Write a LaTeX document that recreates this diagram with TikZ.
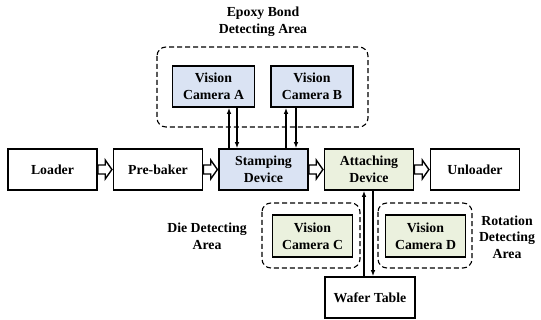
\documentclass[tikz,border=0pt]{standalone}
\usepackage{fontspec}
\setmainfont{Liberation Serif}
\usetikzlibrary{arrows.meta,calc}
\definecolor{blueF}{HTML}{DAE3F3}
\definecolor{greenF}{HTML}{EBF1DE}
\tikzset{
  box/.style={draw=black, line width=1.6pt, minimum width=89pt, minimum height=41pt, inner sep=1pt, align=center, font=\fontsize{13.8}{16.7}\selectfont\bfseries},
  cam/.style={box, minimum width=82pt},
  zone/.style={draw=black, line width=1.1pt, dash pattern=on 5pt off 3pt, rounded corners=9pt},
  lbl/.style={align=center, font=\fontsize{13.8}{16.7}\selectfont\bfseries},
  harrow/.style={draw=black, fill=white, line width=1.4pt, line join=miter},
  sig/.style={line width=1.3pt, -{Latex[length=6pt,width=4.5pt]}}
}
\newcommand\hollowarrow[2]{%
  \draw[harrow] let \p1=(#1.east), \p2=(#2.west) in
    (\x1,\y1+4.5pt) -- (\x2-7.5pt,\y1+4.5pt) -- (\x2-7.5pt,\y1+9.5pt) -- (\x2-0.8pt,\y1)
    -- (\x2-7.5pt,\y1-9.5pt) -- (\x2-7.5pt,\y1-4.5pt) -- (\x1,\y1-4.5pt) -- cycle;}
\begin{document}
\begin{tikzpicture}[x=1pt,y=-1pt]
\useasboundingbox (0,0) rectangle (541,320);
% dashed zones
\draw[zone] (157,47) rectangle (368,127);
\draw[zone] (262,203) rectangle (360,268);
\draw[zone] (378,203) rectangle (472,268);
% main row
\node[box] (loader) at (52.5,169.5) {Loader};
\node[box] (prebaker) at (158,169.5) {Pre-baker};
\node[box, fill=blueF] (stamp) at (263.5,169.5) {Stamping\\Device};
\node[box, fill=greenF] (attach) at (369,169.5) {Attaching\\Device};
\node[box] (unloader) at (475,169.5) {Unloader};
% cameras
\node[cam, fill=blueF] (camA) at (213.5,86.5) {Vision\\Camera A};
\node[cam, fill=blueF] (camB) at (312,86.5) {Vision\\Camera B};
\node[cam, fill=greenF, minimum width=80pt, minimum height=42pt] (camC) at (312.5,236) {Vision\\Camera C};
\node[cam, fill=greenF, minimum width=80pt, minimum height=42pt] (camD) at (425.5,236) {Vision\\Camera D};
\node[box, minimum width=90pt] (wafer) at (370,297.5) {Wafer Table};
% labels
\node[lbl] (lblEpoxy) at (263,22) {Epoxy Bond\\Detecting Area};
\node[lbl] (lblDie) at (207,236.5) {Die Detecting\\Area};
\node[lbl] (lblRot) at (507,237) {Rotation\\Detecting\\Area};
% hollow arrows
\hollowarrow{loader}{prebaker}
\hollowarrow{prebaker}{stamp}
\hollowarrow{stamp}{attach}
\hollowarrow{attach}{unloader}
% signal arrows
\draw[sig] ([xshift=15.5pt]camA.south |- stamp.north) -- ([xshift=15.5pt]camA.south);
\draw[sig] ([xshift=23.5pt]camA.south) -- ([xshift=23.5pt]camA.south |- stamp.north);
\draw[sig] ([xshift=-26pt]camB.south |- stamp.north) -- ([xshift=-26pt]camB.south);
\draw[sig] ([xshift=-16pt]camB.south) -- ([xshift=-16pt]camB.south |- stamp.north);
\draw[sig] ([xshift=-5pt]attach.south |- wafer.north) -- ([xshift=-5pt]attach.south);
\draw[sig] ([xshift=4pt]attach.south) -- ([xshift=4pt]attach.south |- wafer.north);
\end{tikzpicture}
\end{document}
